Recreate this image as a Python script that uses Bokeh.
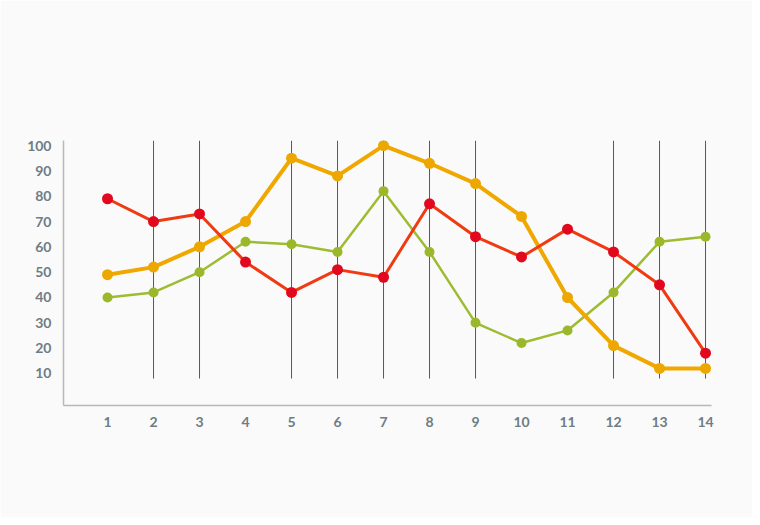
from bokeh.plotting import figure
from bokeh.models import Range1d, FixedTicker
from bokeh.embed import file_html
from bokeh.resources import INLINE

x = list(range(1, 15))
red = [79, 70, 73, 54, 42, 51, 48, 77, 64, 56, 67, 58, 45, 18]
orange = [49, 52, 60, 70, 95, 88, 100, 93, 85, 72, 40, 21, 12, 12]
green = [40, 42, 50, 62, 61, 58, 82, 58, 30, 22, 27, 42, 62, 64]
vline_x = [2, 3, 5, 6, 7, 8, 9, 12, 13, 14]
vline_bottom = 8
vline_top = 102
y_ticks = [10, 20, 30, 40, 50, 60, 70, 80, 90, 100]

p = figure(width=752, height=517, output_backend="svg", toolbar_location=None,
           x_range=Range1d(0.043, 14.13), y_range=Range1d(-2.65, 102),
           min_border_left=63, min_border_right=41, min_border_top=140, min_border_bottom=112,
           background_fill_color="#fafafa", border_fill_color="#fafafa")
p.outline_line_color = None
p.grid.visible = False

p.segment(x0=vline_x, x1=vline_x, y0=[vline_bottom]*len(vline_x), y1=[vline_top]*len(vline_x),
          line_color="#5a5a55", line_width=1)

p.line(x, green, line_color="#9ebc32", line_width=2.5)
p.scatter(x, green, size=10, fill_color="#9ab82a", line_color=None)
p.line(x, orange, line_color="#f0a800", line_width=4)
p.scatter(x, orange, size=11, fill_color="#eca800", line_color=None)
p.line(x, red, line_color="#ef3a12", line_width=3)
p.scatter(x, red, size=11, fill_color="#e2081e", line_color=None)

for ax in (p.xaxis[0], p.yaxis[0]):
    ax.axis_line_color = "#b8b8b8"
    ax.axis_line_width = 1.5
    ax.major_tick_line_color = None
    ax.minor_tick_line_color = None
    ax.major_label_text_font = "Lato"
    ax.major_label_text_font_style = "bold"
    ax.major_label_text_font_size = "14px"
    ax.major_label_text_color = "#6e7c84"
    ax.major_tick_out = 0
    ax.major_tick_in = 0

p.xaxis.ticker = FixedTicker(ticks=x)
p.yaxis.ticker = FixedTicker(ticks=y_ticks)
p.xaxis.major_label_standoff = 11
p.yaxis.major_label_standoff = 12

open("out.html", "w").write(file_html(p, INLINE))
